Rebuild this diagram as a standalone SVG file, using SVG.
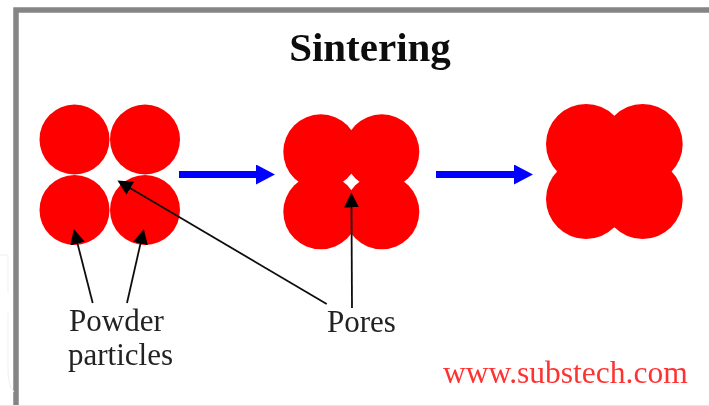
<svg xmlns="http://www.w3.org/2000/svg" width="709" height="406" viewBox="0 0 709 406">
<defs>
<marker id="bk" markerUnits="userSpaceOnUse" markerWidth="16" markerHeight="16" refX="1" refY="7.500" orient="auto"><path d="M0,0L15,7.500L0,15Z" fill="#000"/></marker>
<marker id="bl" markerUnits="userSpaceOnUse" markerWidth="22" markerHeight="22" refX="1" refY="10" orient="auto"><path d="M0,0L19,10L0,20Z" fill="#00f"/></marker>
<filter id="soft" x="-5%" y="-5%" width="110%" height="110%"><feGaussianBlur stdDeviation="0.5"/></filter>
</defs>
<style>
.p{fill:#f00}
.l{fill:none;stroke:#111;stroke-width:1.8;marker-end:url(#bk)}
.a{fill:none;stroke:#00f;stroke-width:7;marker-end:url(#bl)}
text{font-family:"Liberation Serif","Times New Roman",serif}
.t{font-size:31px;fill:#222}
</style>
<rect width="709" height="406" fill="#fff"/>
<g id="frame" filter="url(#soft)">
<path d="M16,406V10H709" fill="none" stroke="#858585" stroke-width="5.500"/>
<path d="M0,405.500H709" stroke="#e6e6e6" stroke-width="1"/>
<path d="M0,255H8V292M8,313V372Q8,385 14,392" fill="none" stroke="#efefef" stroke-width="1"/>
</g>
<g filter="url(#soft)">
<g id="stage1">
<circle class="p" cx="74.500" cy="139.500" r="35"/><circle class="p" cx="145" cy="139.500" r="35"/>
<circle class="p" cx="74.500" cy="210" r="35"/><circle class="p" cx="145" cy="210" r="35"/>
</g>
<g id="stage2">
<circle class="p" cx="320.800" cy="151.800" r="37.500"/><circle class="p" cx="381.800" cy="151.800" r="37.500"/>
<circle class="p" cx="320.800" cy="211.800" r="37.500"/><circle class="p" cx="381.800" cy="211.800" r="37.500"/>
</g>
<g id="stage3">
<circle class="p" cx="586" cy="144" r="40"/><circle class="p" cx="642.700" cy="144" r="40"/>
<circle class="p" cx="586" cy="199" r="40"/><circle class="p" cx="642.700" cy="199" r="40"/>
</g>
<g id="connectors">
<line class="a" x1="179" y1="174.500" x2="257" y2="174.500"/>
<line class="a" x1="436" y1="174.500" x2="515" y2="174.500"/>
<line class="l" x1="92.700" y1="303" x2="77.300" y2="242.600"/>
<line class="l" x1="127" y1="303" x2="140.700" y2="242.600"/>
<line class="l" x1="326.700" y1="304" x2="129.500" y2="187.700"/>
<line class="l" x1="352" y1="308" x2="351.500" y2="206.500"/>
</g>
<g id="title"><text x="370" y="61" text-anchor="middle" font-size="41" font-weight="bold" fill="#111">Sintering</text></g>
<g id="label-powder"><text class="t" x="69" y="331">Powder</text><text class="t" x="68" y="365">particles</text></g>
<g id="label-pores"><text class="t" x="327" y="332">Pores</text></g>
<g id="label-url"><text x="443" y="383" font-size="31.500" fill="#f33">www.substech.com</text></g>
</g>
</svg>
